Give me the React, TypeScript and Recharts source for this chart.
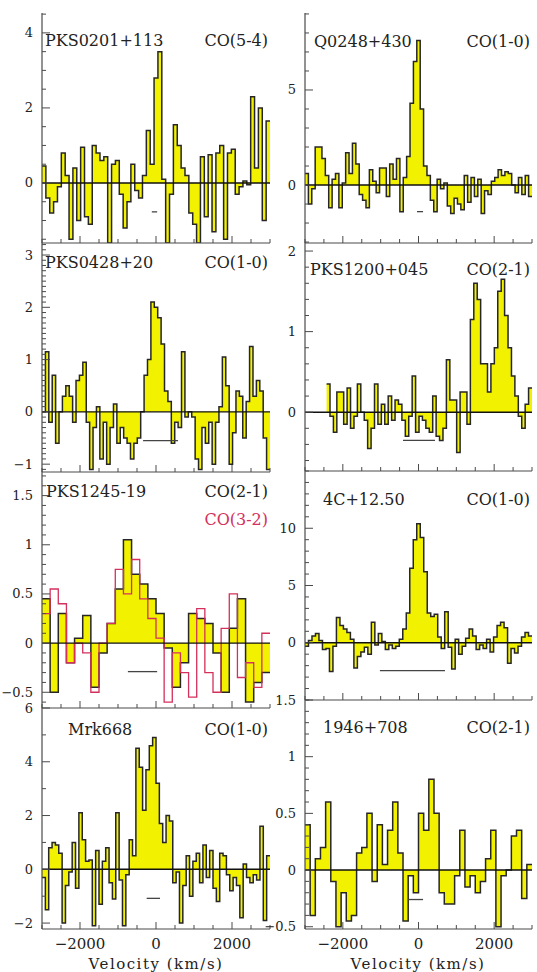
import React from "react";
import { ComposedChart, Area, Line, XAxis, YAxis, ReferenceLine } from "recharts";

const FONT = "'DejaVu Serif', serif";
const INK = "#262626";
const FRAME = "#4a4a4a";
const YELLOW = "#f2f200";
const RED = "#d3305c";

// velocity axis (km/s)
const VEL_MIN = -3000;
const VEL_MAX = 3000;
const X_LABELS = [-2000, 0, 2000];
const X_STEP = 500;

// spectra, one value per channel, left to right
const pks0201 = [0.45, -0.4, -0.8, -0.5, -0.1, 0.8, 0.2, -1.5, 0.4, -1.0, 0.95, -0.9, -1.1, 1.0, 0.8, 0.6, 0.7, -1.6, 0.5, 0.6, -0.3, -1.2, -0.5, 0.5, -0.2, -0.4, 0.2, 1.4, 0.5, 2.8, 3.5, 0.1, -1.6, -0.3, 1.55, 1.0, 0.4, 0.2, -0.8, -1.1, -1.6, 0.7, -0.9, 0.75, -1.3, 0.8, 1.0, -1.5, 0.8, 0.9, -0.3, -0.1, 0.05, -0.05, 2.3, 0.4, 2.0, -1.0, 1.65];
const q0248 = [0.6, -1.0, -0.2, 2.0, 2.0, 1.4, 0.5, -1.2, 0.3, 0.6, -1.2, 0.1, 1.7, 0.6, 2.2, 1.1, -0.5, -0.8, -1.2, 0.8, 0.2, -0.4, 0.9, 0.9, -0.6, 1.1, 0.3, 1.4, -1.4, 0.4, 1.5, 4.3, 6.5, 7.6, 4.0, 1.0, 0.5, -0.8, -1.4, 0.3, -0.2, 0.1, -1.1, -1.5, -0.7, -1.0, -1.3, 0.5, -0.9, 0.4, -0.6, 0.3, -1.5, -0.3, -0.5, 0.2, 0.4, 0.8, 0.5, 0.7, 0.6, 0.0, -0.4, 0.4, -0.5, 0.5, -0.6];
const pks0428 = [0.0, 1.15, -0.2, 0.7, -0.6, 0.0, 0.3, 0.5, 0.3, -0.2, 0.6, 0.7, 0.95, -0.2, -1.1, -0.3, 0.1, -0.9, -0.2, -1.0, -0.3, 0.15, -0.6, -0.3, -0.5, -0.6, -0.9, -0.6, -0.5, 0.0, 0.7, 1.0, 2.1, 2.0, 1.8, 1.3, 0.4, 0.2, -0.6, -0.2, -0.3, 1.15, -0.1, 0.0, -0.1, -0.9, -1.1, -0.3, -0.6, -0.2, -1.0, -0.2, 0.1, 1.05, 0.5, -1.0, -0.4, 0.4, 0.3, -0.5, 0.2, 1.25, 0.3, 0.6, 0.4, -0.5, -1.1];
const pks1200 = [0.35, -0.05, -0.25, 0.25, 0.25, -0.15, 0.3, -0.2, -0.05, 0.35, 0.0, -0.1, -0.45, -0.2, 0.35, -0.15, 0.1, -0.15, 0.2, -0.1, 0.15, 0.1, -0.1, -0.3, -0.05, 0.45, -0.25, -0.05, -0.1, -0.2, -0.25, 0.2, -0.3, -0.35, -0.2, 0.65, 0.15, 0.15, -0.5, 0.25, 0.25, -0.15, 1.15, 1.6, 1.4, 0.6, 0.6, 0.25, 0.6, 0.8, 1.5, 1.65, 1.2, 0.8, 0.45, 0.2, -0.05, -0.2, 0.1, 0.3];
const pks1245co21 = [0.45, -0.5, 0.3, -0.2, 0.05, 0.28, -0.45, -0.1, 0.2, 0.55, 1.05, 0.7, 0.6, 0.45, 0.3, -0.05, -0.45, -0.2, 0.3, 0.25, 0.2, -0.1, -0.5, 0.15, 0.45, -0.6, -0.4, -0.3];
const pks1245co32 = [0.3, 0.55, 0.4, -0.2, 0.0, -0.1, -0.5, 0.0, 0.2, 0.75, 0.5, 0.85, 0.45, 0.25, 0.05, -0.6, -0.1, -0.3, -0.55, 0.35, -0.3, -0.5, 0.15, 0.5, -0.35, -0.2, -0.45, 0.1];
const c4p1250 = [-0.3, 0.2, 0.6, 0.8, 0.2, -0.6, -0.5, -2.5, -0.3, 2.2, 1.5, 1.2, 0.9, 0.3, -2.2, -1.2, -0.8, -0.4, -1.0, 1.8, -0.2, 0.8, 0.1, -0.6, -0.2, -0.5, -0.3, 0.3, 1.2, 2.6, 6.5, 9.0, 10.4, 9.2, 6.2, 2.6, 2.3, 2.5, 0.5, -0.5, 2.7, -0.4, -2.3, 0.3, -1.0, -0.3, 0.4, 1.2, 0.6, -0.6, -0.2, -0.5, 0.3, -0.8, 0.5, 1.5, 1.8, 1.3, -1.8, -0.5, -0.9, -0.3, 0.5, 0.9, 0.6];
const mrk668 = [-0.3, -1.5, 0.8, 1.0, 0.9, 0.6, -2.0, -0.6, -0.1, 1.0, -0.7, 2.1, 1.1, 0.3, 0.35, -2.1, 0.7, -1.3, 0.3, 0.8, -0.5, -1.1, 2.1, -0.4, -2.1, -0.2, 1.1, 0.5, 4.5, 3.8, 2.2, 3.7, 4.6, 4.9, 3.2, 1.7, 1.0, 2.0, 1.8, -0.5, -0.1, -2.0, -0.6, 0.5, -1.0, 0.3, 0.6, -0.5, 0.9, -0.3, 0.7, -0.7, -1.2, 0.6, 0.5, -0.2, -0.8, -0.3, -0.6, -1.8, 0.2, -0.3, -0.5, -0.2, -0.4, 1.6, -1.9, 0.5];
const s1946 = [0.4, -0.4, 0.1, 0.2, 0.6, -0.1, -0.5, -0.2, -0.45, -0.4, 0.15, 0.2, 0.5, -0.1, 0.4, 0.05, 0.35, 0.6, 0.15, -0.45, -0.05, -0.2, 0.5, 0.35, 0.8, 0.5, -0.2, -0.3, -0.3, -0.05, 0.35, -0.15, -0.05, -0.2, -0.1, 0.1, 0.35, -0.5, -0.05, 0.0, 0.3, 0.35, -0.25, 0.05];

// line-width bars: [v from, v to, level]
const bar0201 = [-110, 30, -0.77];
const bar0248 = [-40, 120, -1.4];
const bar0428 = [-340, 580, -0.55];
const bar1200 = [-410, 436, -0.35];
const bar1245 = [-740, 30, -0.29];
const bar1250 = [-1020, 700, -2.44];
const bar668 = [-245, 105, -1.08];
const bar1946 = [-280, 120, -0.26];

function spectrum(start: number, end: number, series: Record<string, number[]>) {
  const keys = Object.keys(series);
  const n = series[keys[0]].length;
  const dv = (end - start) / n;
  const rows: any[] = [];
  for (let i = 0; i <= n; i++) {
    const row: any = { v: start + i * dv };
    keys.forEach((k) => (row[k] = series[k][Math.min(i, n - 1)]));
    rows.push(row);
  }
  return rows;
}

function tickRange(lo: number, hi: number, step: number) {
  const out: number[] = [];
  for (let i = Math.ceil(lo / step - 1e-9); i * step <= hi + 1e-9; i++) {
    out.push(Math.round(i * step * 1e6) / 1e6);
  }
  return out;
}

const fmt = (v: number) => String(v).replace("-", "\u2212");

const PANELS = [
  { name: "PKS0201+113", lines: ["CO(5-4)"], frame: [42, 270, 13, 243], y: [-1.6, 4.53], yLabels: [0, 2, 4], yStep: 0.5, data: spectrum(VEL_MIN, VEL_MAX, { y: pks0201 }), bar: bar0201, nameX: 45, textY: 46, bottom: false },
  { name: "Q0248+430", lines: ["CO(1-0)"], frame: [305, 532, 13, 243], y: [-3.05, 9.05], yLabels: [0, 5], yStep: 1, data: spectrum(VEL_MIN, VEL_MAX, { y: q0248 }), bar: bar0248, nameX: 314, textY: 47, bottom: false },
  { name: "PKS0428+20", lines: ["CO(1-0)"], frame: [42, 270, 243, 472], y: [-1.15, 3.23], yLabels: [-1, 0, 1, 2, 3], yStep: 0.1, data: spectrum(VEL_MIN, VEL_MAX, { y: pks0428 }), bar: bar0428, nameX: 45, textY: 268, bottom: false },
  { name: "PKS1200+045", lines: ["CO(2-1)"], frame: [305, 532, 243, 471], y: [-0.73, 2.1], yLabels: [0, 1, 2], yStep: 0.2, data: spectrum(-2430, VEL_MAX, { y: pks1200 }), bar: bar1200, nameX: 310, textY: 275, bottom: false },
  { name: "PKS1245-19", lines: ["CO(2-1)", "CO(3-2)"], frame: [42, 270, 472, 708], y: [-0.66, 1.74], yLabels: [-0.5, 0, 0.5, 1, 1.5], yStep: 0.1, data: spectrum(VEL_MIN, VEL_MAX, { y: pks1245co21, r: pks1245co32 }), bar: bar1245, nameX: 46, textY: 497, bottom: false },
  { name: "4C+12.50", lines: ["CO(1-0)"], frame: [305, 532, 471, 700], y: [-5, 15], yLabels: [0, 5, 10], yStep: 1, data: spectrum(VEL_MIN, VEL_MAX, { y: c4p1250 }), bar: bar1250, nameX: 323, textY: 505, bottom: false },
  { name: "Mrk668", lines: ["CO(1-0)"], frame: [42, 270, 708, 929], y: [-2.22, 6], yLabels: [-2, 0, 2, 4, 6], yStep: 1, data: spectrum(VEL_MIN, VEL_MAX, { y: mrk668 }), bar: bar668, nameX: 68, textY: 735, bottom: true },
  { name: "1946+708", lines: ["CO(2-1)"], frame: [305, 532, 700, 929], y: [-0.52, 1.5], yLabels: [-0.5, 0, 0.5, 1, 1.5], yStep: 0.1, data: spectrum(VEL_MIN, VEL_MAX, { y: s1946 }), bar: bar1946, nameX: 323, textY: 733, bottom: true },
];

const xTicks = tickRange(VEL_MIN, VEL_MAX, X_STEP);

function Panel({ cfg }: { cfg: (typeof PANELS)[number] }) {
  const [x0, x1, y0, y1] = cfg.frame;
  const W = x1 - x0 + 55;
  const H = y1 - y0 + 55;
  const yTicks = tickRange(cfg.y[0], cfg.y[1], cfg.yStep);
  const isMajorY = (v: number) => cfg.yLabels.includes(v);
  const isMajorX = (v: number) => X_LABELS.includes(v);
  const axisLine = { stroke: FRAME, strokeWidth: 1.2 };

  return (
    <div style={{ position: "absolute", left: x0 - 45, top: y0 - 10, width: W, height: H }}>
      <ComposedChart width={W} height={H} data={cfg.data} margin={{ top: 10, right: 10, bottom: 0, left: 0 }}>
        <XAxis
          dataKey="v"
          type="number"
          domain={[VEL_MIN, VEL_MAX]}
          ticks={xTicks}
          interval={0}
          allowDataOverflow
          height={45}
          tickSize={0}
          tickMargin={0}
          axisLine={axisLine}
          tick={(p: any) => (
            <g>
              <line x1={p.x} x2={p.x} y1={p.y} y2={p.y - (isMajorX(p.payload.value) ? 7 : 4)} stroke={FRAME} />
              {cfg.bottom && isMajorX(p.payload.value) && (
                <text x={p.x} y={p.y + 20} textAnchor="middle" fontSize={15} fontFamily={FONT} fill="#222">
                  {fmt(p.payload.value)}
                </text>
              )}
            </g>
          )}
        />
        <XAxis
          xAxisId="top"
          orientation="top"
          dataKey="v"
          type="number"
          domain={[VEL_MIN, VEL_MAX]}
          ticks={xTicks}
          interval={0}
          allowDataOverflow
          height={0}
          tickSize={0}
          tickMargin={0}
          axisLine={axisLine}
          tick={(p: any) => (
            <line x1={p.x} x2={p.x} y1={p.y} y2={p.y + (isMajorX(p.payload.value) ? 7 : 4)} stroke={FRAME} />
          )}
        />
        <YAxis
          type="number"
          domain={cfg.y}
          ticks={yTicks}
          interval={0}
          allowDataOverflow
          width={45}
          tickSize={0}
          tickMargin={0}
          axisLine={axisLine}
          tick={(p: any) => (
            <g>
              <line x1={p.x} x2={p.x + (isMajorY(p.payload.value) ? 8 : 4)} y1={p.y} y2={p.y} stroke={FRAME} />
              {isMajorY(p.payload.value) && (
                <text x={p.x - 9} y={p.y} textAnchor="end" dominantBaseline="central" fontSize={13} fontFamily={FONT} fill="#222">
                  {fmt(p.payload.value)}
                </text>
              )}
            </g>
          )}
        />
        <YAxis
          yAxisId="r"
          orientation="right"
          type="number"
          domain={cfg.y}
          ticks={yTicks}
          interval={0}
          allowDataOverflow
          width={0}
          tickSize={0}
          tickMargin={0}
          axisLine={axisLine}
          tick={(p: any) => (
            <line x1={p.x} x2={p.x - (isMajorY(p.payload.value) ? 8 : 4)} y1={p.y} y2={p.y} stroke={FRAME} />
          )}
        />
        <Area
          type="stepAfter"
          dataKey="y"
          stroke={INK}
          strokeWidth={1.5}
          fill={YELLOW}
          fillOpacity={1}
          baseValue={0}
          dot={false}
          activeDot={false}
          isAnimationActive={false}
        />
        {cfg.lines.length > 1 && (
          <Line type="stepAfter" dataKey="r" stroke={RED} strokeWidth={1.3} dot={false} activeDot={false} isAnimationActive={false} />
        )}
        <ReferenceLine y={0} stroke="#111" strokeWidth={1.4} />
        <ReferenceLine
          segment={[
            { x: cfg.bar[0], y: cfg.bar[2] },
            { x: cfg.bar[1], y: cfg.bar[2] },
          ]}
          stroke="#444"
          strokeWidth={1.3}
        />
      </ComposedChart>
    </div>
  );
}

export default function App() {
  return (
    <div style={{ position: "absolute", left: 0, top: 0, width: 537, height: 972, overflow: "hidden", background: "#fff" }}>
      {PANELS.map((p) => (
        <Panel key={p.name} cfg={p} />
      ))}
      <svg width={537} height={972} style={{ position: "absolute", left: 0, top: 0, pointerEvents: "none" }}>
        {PANELS.map((p) => (
          <g key={p.name} fontFamily={FONT} fontSize={16} fill="#222">
            <text x={p.nameX} y={p.textY}>{p.name}</text>
            {p.lines.map((l, i) => (
              <text key={l} x={p.frame[1] - 2} y={p.textY + i * 28} textAnchor="end" fill={i > 0 ? RED : "#222"}>
                {l}
              </text>
            ))}
          </g>
        ))}
        <g fontFamily={FONT} fontSize={15} fill="#222" letterSpacing={1.5} textAnchor="middle">
          <text x={156} y={969}>Velocity (km/s)</text>
          <text x={418} y={969}>Velocity (km/s)</text>
        </g>
      </svg>
    </div>
  );
}
